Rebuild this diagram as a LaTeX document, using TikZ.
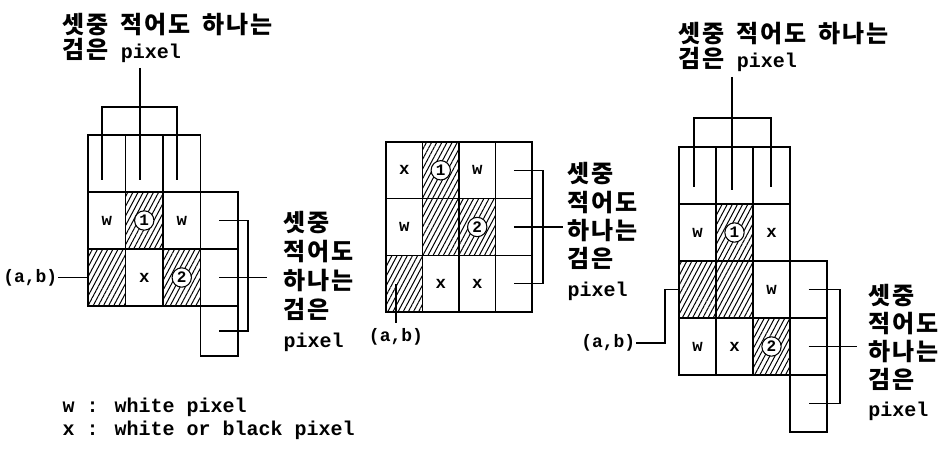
\documentclass[tikz,border=0pt]{standalone}
\usepackage{fontspec}
\usetikzlibrary{patterns.meta,calc}
\newfontfamily\mono{Liberation Mono}
\newfontfamily\kr{Noto Sans CJK KR}[Scale=1.2,LetterSpace=8]
\newcommand\K[1]{{\kr #1}}
\tikzset{
  cell/.style={draw,line width=1.1pt,inner sep=0pt,font=\mono\bfseries\fontsize{13}{13}\selectfont},
  hatch/.style={pattern={Lines[angle=62,distance=3.4pt,line width=0.75pt]}},
  Lc/.style={cell,minimum width=28.125pt,minimum height=42.75pt},
  Mc/.style={cell,minimum width=27.375pt,minimum height=42.5pt},
  Rc/.style={cell,minimum width=27.75pt,minimum height=42.75pt},
  circ/.style={draw,circle,fill=white,line width=0.8pt,inner sep=0pt,minimum size=14.5pt,font=\mono\bfseries\fontsize{12}{12}\selectfont},
  txt/.style={inner sep=0pt,font=\mono\bfseries\fontsize{15}{18}\selectfont},
  abtxt/.style={inner sep=0pt,font=\mono\bfseries\fontsize{13.5}{16}\selectfont},
}
\begin{document}
\begin{tikzpicture}[x=0.75pt,y=-0.75pt,line width=1.1pt]
\useasboundingbox (0,0) rectangle (946,452);

% ---------------- left diagram ----------------
\node[Lc] (Lr0c0) at (106.75,163.5) {};
\node[Lc] (Lr0c1) at (144.25,163.5) {};
\node[Lc] (Lr0c2) at (181.75,163.5) {};
\node[Lc] (Lr1c0) at (106.75,220.5) {w};
\node[Lc,hatch] (Lr1c1) at (144.25,220.5) {};
\node[Lc] (Lr1c2) at (181.75,220.5) {w};
\node[Lc] (Lr1c3) at (219.25,220.5) {};
\node[Lc,hatch] (Lr2c0) at (106.75,277.5) {};
\node[Lc] (Lr2c1) at (144.25,277.5) {x};
\node[Lc,hatch] (Lr2c2) at (181.75,277.5) {};
\node[Lc] (Lr2c3) at (219.25,277.5) {};
\node[Lc,minimum height=37.5pt] (Lr3c3) at (219.25,331) {};
\node[circ] (Lone) at (Lr1c1) {1};
\node[circ] (Ltwo) at (Lr2c2) {2};

\node[txt,anchor=north west,align=left,font=\mono\bfseries\fontsize{15}{18.75}\selectfont] (Ltop) at (62,12)
  {\K{셋중} \K{적어도} \K{하나는}\\\K{검은} pixel};
\coordinate (LtA) at (102,180);
\coordinate (LtB) at (140,180);
\coordinate (LtC) at (177,180);
\coordinate (LtH) at (0,107);
\draw (Ltop.south -| LtB) ++(0,5) -- (LtB);
\draw (LtA) -- (LtA |- LtH) -- (LtC |- LtH) -- (LtC);

\node[txt,anchor=north west,align=left,inner xsep=12pt,font=\mono\bfseries\fontsize{15}{21.6}\selectfont] (Llab) at (267,211)
  {\K{셋중}\\\K{적어도}\\\K{하나는}\\\K{검은}\\pixel};
\coordinate (LbV) at (248,0);
\draw (Lr1c3.center) -- (Lr1c3.center -| LbV) -- (Lr3c3.center -| LbV) -- (Lr3c3.center);
\draw (Lr2c3.center) -- (Lr2c3.center -| Llab.west);

\node[abtxt,anchor=east] (Lab) at (58,277.5) {(a,b)};
\draw (Lab.east) -- (Lr2c0.west);

% ---------------- middle diagram ----------------
\node[Mc] (Mr0c0) at (404.25,170.3) {x};
\node[Mc,hatch] (Mr0c1) at (440.75,170.3) {};
\node[Mc] (Mr0c2) at (477.25,170.3) {w};
\node[Mc] (Mr0c3) at (513.75,170.3) {};
\node[Mc] (Mr1c0) at (404.25,227) {w};
\node[Mc,hatch] (Mr1c1) at (440.75,227) {};
\node[Mc,hatch] (Mr1c2) at (477.25,227) {};
\node[Mc] (Mr1c3) at (513.75,227) {};
\node[Mc,hatch] (Mr2c0) at (404.25,283.7) {};
\node[Mc] (Mr2c1) at (440.75,283.7) {x};
\node[Mc] (Mr2c2) at (477.25,283.7) {x};
\node[Mc] (Mr2c3) at (513.75,283.7) {};
\node[circ] (Mone) at (Mr0c1) {1};
\node[circ] (Mtwo) at (Mr1c2) {2};

\node[txt,anchor=north west,align=left,inner xsep=3pt,font=\mono\bfseries\fontsize{15}{21.2}\selectfont] (Mlab) at (563,162)
  {\K{셋중}\\\K{적어도}\\\K{하나는}\\\K{검은}\\pixel};
\coordinate (MbV) at (543,0);
\draw (Mr0c3.center) -- (Mr0c3.center -| MbV) -- (Mr2c3.center -| MbV) -- (Mr2c3.center);
\draw (Mr1c3.center) -- (Mr1c3.center -| Mlab.west);

\node[abtxt,inner ysep=4pt] (Mab) at (396,337) {(a,b)};
\draw (Mab.north) -- (Mab.north |- Mr2c0.center);

% ---------------- right diagram ----------------
\node[Rc] (Rr0c0) at (697.5,175.5) {};
\node[Rc] (Rr0c1) at (734.5,175.5) {};
\node[Rc] (Rr0c2) at (771.5,175.5) {};
\node[Rc] (Rr1c0) at (697.5,232.5) {w};
\node[Rc,hatch] (Rr1c1) at (734.5,232.5) {};
\node[Rc] (Rr1c2) at (771.5,232.5) {x};
\node[Rc,hatch] (Rr2c0) at (697.5,289.5) {};
\node[Rc,hatch] (Rr2c1) at (734.5,289.5) {};
\node[Rc] (Rr2c2) at (771.5,289.5) {w};
\node[Rc] (Rr2c3) at (808.5,289.5) {};
\node[Rc] (Rr3c0) at (697.5,346.5) {w};
\node[Rc] (Rr3c1) at (734.5,346.5) {x};
\node[Rc,hatch] (Rr3c2) at (771.5,346.5) {};
\node[Rc] (Rr3c3) at (808.5,346.5) {};
\node[Rc] (Rr4c3) at (808.5,403.5) {};
\node[circ] (Rone) at (Rr1c1) {1};
\node[circ] (Rtwo) at (Rr3c2) {2};

\node[txt,anchor=north west,align=left,font=\mono\bfseries\fontsize{15}{18.75}\selectfont] (Rtop) at (678,21)
  {\K{셋중} \K{적어도} \K{하나는}\\\K{검은} pixel};
\coordinate (RtA) at (694,187);
\coordinate (RtB) at (732,190);
\coordinate (RtC) at (771,187);
\coordinate (RtH) at (0,118);
\draw (Rtop.south -| RtB) ++(0,5) -- (RtB);
\draw (RtA) -- (RtA |- RtH) -- (RtC |- RtH) -- (RtC);

\node[txt,anchor=north west,align=left,inner xsep=8pt,font=\mono\bfseries\fontsize{15}{21}\selectfont] (Rlab) at (857,284)
  {\K{셋중}\\\K{적어도}\\\K{하나는}\\\K{검은}\\pixel};
\coordinate (RbV) at (840,0);
\draw (Rr2c3.center) -- (Rr2c3.center -| RbV) -- (Rr4c3.center -| RbV) -- (Rr4c3.center);
\draw (Rr3c3.center) -- (Rr3c3.center -| Rlab.west);

\node[abtxt,anchor=east] (Rab) at (636,343) {(a,b)};
\coordinate (Rk) at (665,0);
\draw (Rab.east) -- (Rab.east -| Rk) -- (Rk |- Rr2c0.west) -- (Rr2c0.west);

% ---------------- legend ----------------
\node[txt,anchor=north west,align=left,font=\mono\bfseries\fontsize{15}{17.25}\selectfont] (leg) at (62,397)
  {w : white pixel\\x : white or black pixel};
\end{tikzpicture}
\end{document}
